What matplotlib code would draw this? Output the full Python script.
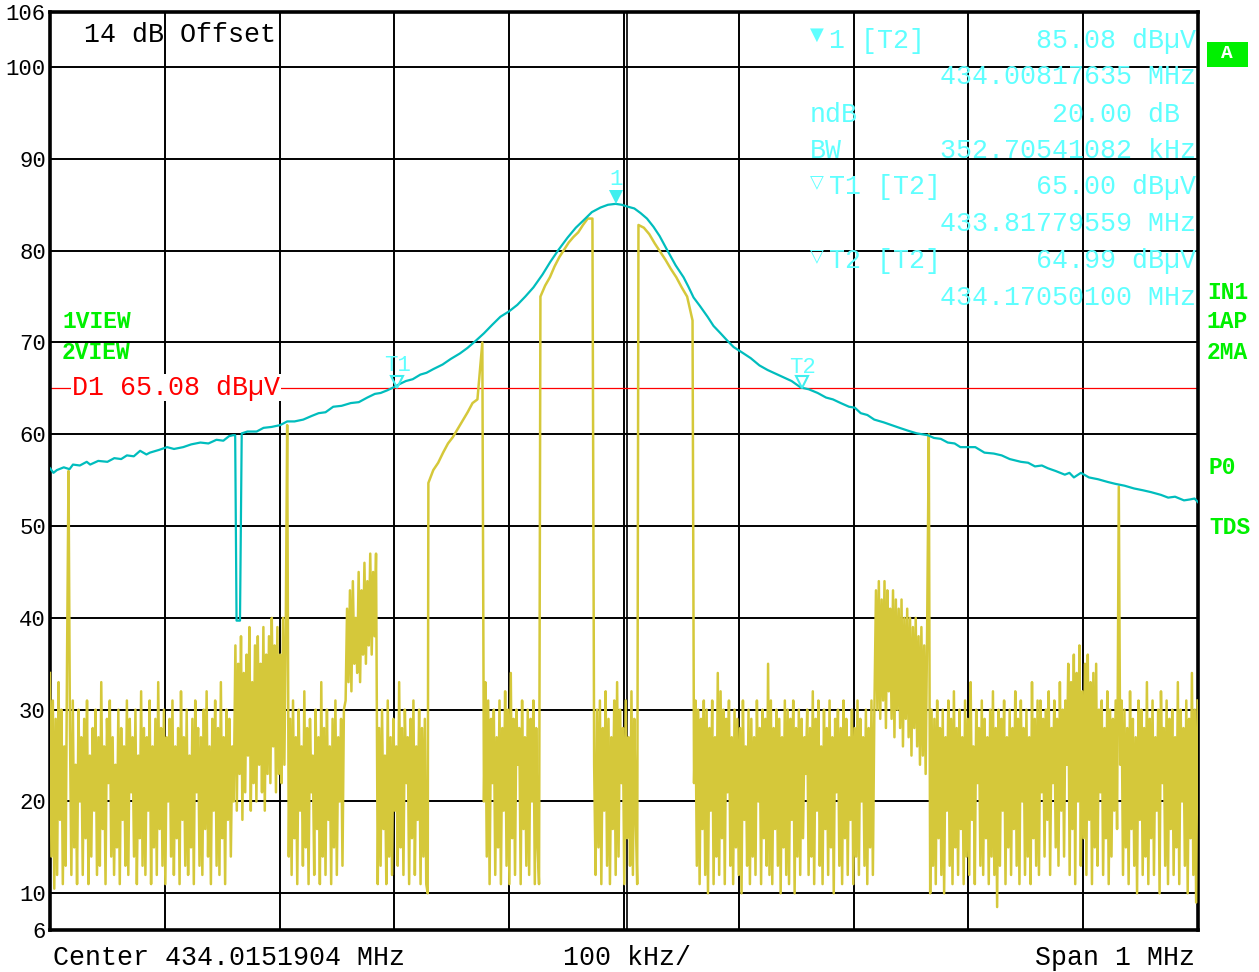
import numpy as np
import matplotlib
matplotlib.use("Agg")
import matplotlib.pyplot as plt
from matplotlib.patches import Rectangle
import matplotlib.transforms as mtrans

# ---------------- data ----------------
center_mhz = 434.0151904
span_khz = 1000

# trace 2 (cyan, max hold): frequency offset [kHz] and level [dBuV]
cyan_khz = [-500, -497, -494, -488, -483, -480, -474, -468, -465, -458, -450, -444, -438,
            -433, -427, -421.5, -416, -413, -405, -398, -392, -384, -377, -369, -362, -355,
            -349, -344, -340.5, -338.7, -337.5, -334.5, -333, -328, -320, -314, -307,
            -299.5, -293.4, -287, -279.4, -272, -266, -260, -253.3, -246, -238, -231,
            -223.6, -217, -212, -206, -201, -195, -190, -184, -177.4, -172, -166.1, -158,
            -151, -143, -136.4, -129, -122, -115, -107.7, -100, -92.9, -86, -78.9, -71,
            -64.1, -57, -49.3, -42, -35.3, -28, -20.5, -14, -7.4, -2, 3.1, 9, 14.4, 20,
            25.7, 31, 37.9, 45, 51.9, 56, 60.6, 66, 72.8, 78, 84.1, 90, 95.5, 103, 110.3,
            118, 125.1, 132, 139.1, 146, 153.9, 161, 168.7, 176, 182, 188.8, 196, 201,
            206.2, 212, 218, 226.2, 233, 240, 247.2, 255, 264.6, 270, 276, 282, 288, 293,
            299.5, 306, 314, 322.1, 329, 336, 345.7, 352, 358, 364, 369.2, 376, 384, 388,
            391.9, 398, 405, 413, 421.5, 428, 436, 444.2, 452, 459, 467.7, 474, 480,
            487.8, 493, 497, 500]
cyan_db = [56.3, 55.8, 56.1, 56.4, 56.2, 56.7, 56.6, 57.0, 56.7, 57.1, 57.0, 57.4, 57.3,
           57.7, 57.6, 58.2, 57.8, 58.0, 58.3, 58.6, 58.4, 58.6, 58.9, 59.1, 59.0, 59.4,
           59.3, 59.8, 59.9, 59.9, 39.7, 39.7, 60.1, 60.3, 60.3, 60.7, 60.8,
           61.0, 61.4, 61.4, 61.6, 62.0, 62.3, 62.4, 63.0, 63.1, 63.4, 63.5,
           64.0, 64.4, 64.5, 64.8, 65.1, 65.5, 65.8, 66.0, 66.5, 66.7, 67.1, 67.6,
           68.2, 68.8, 69.4, 70.2, 71.0, 71.9, 72.8, 73.4, 74.1, 75.0, 76.0, 77.4,
           78.8, 80.1, 81.4, 82.5, 83.3, 84.2, 84.7, 85.0, 85.1, 85.0, 84.8, 84.6, 84.1, 83.5,
           82.6, 81.6, 80.0, 78.4, 77.1, 76.1, 74.9, 74.0, 72.8, 71.8, 71.0, 70.2, 69.5, 68.9,
           68.3, 67.5, 67.0, 66.6, 66.2, 65.8, 65.1, 64.9, 64.5, 64.0, 63.8, 63.4, 63.0, 62.9,
           62.3, 62.1, 61.6, 61.3, 61.0, 60.7, 60.4, 60.1, 59.9, 59.6, 59.5, 59.1, 59.0, 58.6,
           58.6, 58.6, 58.0, 57.9, 57.7, 57.3, 57.0, 56.9, 56.5, 56.6, 56.3, 56.0, 55.6, 55.8,
           55.3, 55.8, 55.3, 55.1, 54.8, 54.6, 54.4, 54.1, 53.9, 53.7, 53.4, 53.1, 53.2,
           52.8, 52.9, 53.0, 52.6]

# trace 1 (yellow): piecewise sweeps, (start kHz, end kHz) and levels
yel_bounds = [(-500, -340), (-338.5, -293.4), (-292, -244), (-242.5, -216),
              (-214.5, -171), (-170.4, -123.4), (-122, -74), (-72.8, -27.5),
              (-26, 11.5), (12.6, 59.7), (61, 218), (219.5, 264), (265.5, 429.5),
              (431, 499.6)]
yel_a = [34, 14, 31, 10.5, 29, 12, 33, 18, 30, 11, 26, 13, 36, 56, 28, 12, 31, 15, 24, 11,
         30, 20, 27, 12, 29, 16, 31, 11, 25, 14, 28, 19, 30, 12, 27, 13, 33, 17, 26, 11,
         29, 22, 31, 14, 27, 12, 24, 15, 30, 11, 28, 18, 26, 13, 31, 12, 29, 21, 27, 14,
         30, 11, 25, 16, 32, 13, 28, 12, 27, 19, 31, 11, 26, 15, 29, 12, 33, 17, 28, 13,
         30, 11, 27, 20, 29, 14, 31, 12, 26, 16, 28, 11, 32, 18, 27, 13, 30, 12, 25, 15,
         29, 11, 31, 21, 28, 13, 27, 12, 30, 17, 32, 14, 26, 11, 29, 19, 31, 13, 28, 12,
         33, 16, 27, 11, 30, 18, 29, 14, 26, 20]
yel_b = [37, 19, 35, 23, 38, 18, 34, 21, 36, 25, 39, 19, 33, 22, 37, 20, 38, 24, 35, 21,
         39, 19, 36, 23, 38, 22, 40, 26, 37, 21, 39, 23, 36, 22, 40, 24, 39, 61]
yel_c = [14, 29, 12, 31, 16, 27, 11, 30, 19, 26, 13, 32, 15, 28, 11, 29, 21, 25, 12, 30,
         17, 27, 11, 33, 14, 28, 12, 30, 18, 26, 11, 29, 15, 31, 12, 27, 20, 29, 13, 30]
yel_d = [31, 41, 33, 43, 32, 44, 35, 40, 34, 45, 33, 43, 36, 46, 35, 44, 37, 47, 36, 45,
         38, 47]
yel_e = [11, 28, 13, 30, 17, 25, 11, 31, 14, 27, 12, 29, 19, 26, 13, 33, 15, 28, 12, 30,
         22, 27, 11, 29, 16, 31, 12, 26, 18, 30, 11, 28, 14, 29, 11, 10]
yel_f = [54.7, 56.1, 56.9, 58.0, 59.0, 59.7, 60.6, 61.5, 62.4, 63.4, 63.8, 70.0]
yel_g = [20, 33, 14, 31, 11, 29, 22, 30, 12, 27, 15, 31, 11, 28, 19, 32, 13, 30, 11, 34,
         16, 29, 12, 30, 24, 28, 11, 31, 17, 27, 13, 30, 12, 29, 20, 31, 11, 28, 15, 11]
yel_h = [75.0, 76.2, 77.1, 78.3, 79.3, 80.1, 80.9, 81.5, 82.0, 82.8, 83.5, 83.5]
yel_i = [24, 12, 30, 15, 31, 11, 28, 19, 32, 13, 29, 11, 27, 17, 31, 12, 33, 14, 30, 22,
         28, 11, 31, 16, 27, 13, 32, 12, 29, 18, 11]
yel_j = [82.8, 82.5, 81.8, 80.8, 79.9, 79.0, 78.0, 77.1, 76.0, 75.0, 72.4]
yel_k = [22, 31, 13, 30, 11, 29, 17, 31, 12, 30, 10, 28, 19, 31, 11, 27, 14, 34, 12, 32,
         16, 30, 11, 29, 21, 31, 13, 27, 11, 30, 15, 29, 12, 28, 10, 31, 18, 26, 13, 30,
         11, 29, 14, 27, 12, 31, 20, 28, 11, 30, 16, 29, 13, 35, 12, 31, 11, 28, 17, 30,
         13, 29, 10, 27, 15, 31, 12, 30, 11, 29, 18, 31, 10, 28, 14, 30, 12, 29, 16, 27,
         23, 30, 12, 28, 14, 32, 11, 29, 19, 31, 13, 26, 11, 30, 17, 28, 12, 31, 15, 27,
         10, 29, 21, 30, 13, 28, 11, 31, 16, 29, 12, 27, 18, 30, 11, 28, 14, 31, 12, 29,
         20, 27, 13, 30, 11, 28, 15, 31, 12, 29]
yel_l = [43, 30, 44, 29, 42, 31, 44, 28, 43, 32, 41, 29, 43, 27, 42, 30, 41, 28, 42, 26,
         40, 29, 41, 27, 40, 25, 39, 28, 40, 26, 38, 24, 39, 25, 37, 23, 38]
yel_m = [60, 10, 30, 13, 29, 11, 31, 16, 28, 12, 30, 10, 27, 19, 31, 13, 29, 11, 32, 15,
         28, 12, 30, 17, 27, 11, 31, 14, 29, 12, 33, 18, 26, 11, 30, 22, 28, 13, 31, 12,
         29, 16, 27, 11, 30, 14, 32, 12, 28, 8.5, 30, 13, 29, 19, 31, 11, 27, 15, 30, 12,
         28, 17, 32, 13, 29, 11, 31, 20, 28, 12, 30, 14, 27, 11, 33, 16, 29, 13, 31, 12,
         31, 21, 29, 14, 30, 18, 32, 12, 28, 22, 31, 15, 29, 13, 33, 19, 30, 14, 31, 24,
         35, 12, 33, 17, 36, 11, 34, 20, 37, 13, 32, 16, 35, 12, 36, 18, 33, 11, 34, 15,
         35, 13, 30, 21, 31, 12, 28, 16, 32, 11, 30, 14, 29, 19, 31, 17]
yel_n = [54.3, 24, 31, 12, 30, 15, 28, 11, 32, 17, 29, 13, 27, 10, 31, 18, 30, 12, 28, 14,
         33, 11, 29, 16, 31, 12, 27, 19, 30, 10, 32, 22, 28, 13, 31, 11, 29, 17, 30, 12,
         27, 15, 33, 11, 30, 20, 28, 13, 31, 10, 29, 16, 34, 12, 30, 9, 31]
yel_vals = [yel_a, yel_b, yel_c, yel_d, yel_e, yel_f, yel_g, yel_h, yel_i, yel_j,
            yel_k, yel_l, yel_m, yel_n]

# markers
m1 = (-7.01, 85.08)
t1 = (-197.4, 65.00)
t2 = (155.3, 64.99)
d1_level = 65.08

yticks = [6, 10, 20, 30, 40, 50, 60, 70, 80, 90, 100, 106]
xgrid = [-400, -300, -200, -100, 0, 100, 200, 300, 400]

# ---------------- figure ----------------
W, H = 1259, 972
fig = plt.figure(figsize=(W / 100, H / 100), dpi=100)
fig.patch.set_facecolor("white")
ax = fig.add_axes([50 / W, 1 - 930 / H, (1198 - 50) / W, (930 - 12) / H])
ax.set_xlim(-span_khz / 2, span_khz / 2)
ax.set_ylim(6, 106)

MONO = ["Liberation Mono", "DejaVu Sans Mono"]
YEL = "#D5C83A"
CYN = "#00BDBD"
LCY = "#5FFFFF"
GRN = "#00F000"
FS = 19.2

ax.set_xticks(xgrid)
ax.set_xticklabels([])
ax.set_yticks(yticks)
ax.set_yticklabels([str(v) for v in yticks], fontfamily=MONO, fontsize=16)
ax.tick_params(length=0, pad=3)
ax.grid(True, color="black", lw=1.4)
ax.set_axisbelow(True)
for sp in ax.spines.values():
    sp.set_linewidth(2.6)
    sp.set_color("black")
ax.axvline(2.6, color="black", lw=1.2, zorder=0.5)

# traces
yx = np.concatenate([np.linspace(a, b, len(v)) for (a, b), v in zip(yel_bounds, yel_vals)])
yy = np.concatenate([np.asarray(v, float) for v in yel_vals])
ax.plot(yx, yy, color=YEL, lw=1.8, zorder=3)
ax.plot(cyan_khz, cyan_db, color=CYN, lw=1.6, zorder=4)

# display line D1
ax.axhline(d1_level, color="#FF0000", lw=0.9, zorder=2)
ax.text(-500 + 22 / 1.148, d1_level, "D1 65.08 dB\u00b5V", color="#FF0000",
        fontfamily=MONO, fontsize=FS, va="center", ha="left", zorder=5,
        bbox=dict(facecolor="white", edgecolor="none", pad=0.5))

# markers on trace
def offs(dy):
    return mtrans.offset_copy(ax.transData, fig=fig, x=0, y=dy, units="dots")

ax.plot([m1[0]], [m1[1]], marker="v", ms=10, color="#3FEFEF", mew=0,
        transform=offs(7), zorder=6)
for t in (t1, t2):
    ax.plot([t[0]], [t[1]], marker="v", ms=9, mfc="none", mec="#3FEFEF", mew=1.5,
            transform=offs(6), zorder=6)
for lab, p, dy in (("1", m1, 25), ("T1", t1, 23), ("T2", t2, 21)):
    ax.annotate(lab, xy=p, xytext=(0, dy), textcoords="offset pixels", ha="center",
                va="center", color=LCY, fontfamily=MONO, fontsize=16, zorder=6)

# ---------------- texts (figure pixels) ----------------
def ft(x, y, s, **kw):
    kw.setdefault("fontfamily", MONO)
    kw.setdefault("fontsize", FS)
    kw.setdefault("va", "center")
    fig.text(x / W, 1 - y / H, s, **kw)

ft(84, 35, "14 dB Offset", color="black")
ft(53, 958, "Center 434.0151904 MHz", color="black")
ft(563, 958, "100 kHz/", color="black")
ft(1195, 958, "Span 1 MHz", color="black", ha="right")

# marker info block
ft(817, 35, "\u25BC", color=LCY, fontfamily=["DejaVu Sans"], fontsize=13, ha="center")
ft(829, 41, "1 [T2]", color=LCY)
ft(1196, 41, "85.08 dB\u00b5V", color=LCY, ha="right")
ft(1196, 77, "434.00817635 MHz", color=LCY, ha="right")
ft(810, 115, "ndB", color=LCY)
ft(1196, 115, "20.00 dB ", color=LCY, ha="right")
ft(810, 151, "BW", color=LCY)
ft(1196, 151, "352.70541082 kHz", color=LCY, ha="right")
ft(817, 182, "\u25BD", color=LCY, fontfamily=["DejaVu Sans"], fontsize=13, ha="center")
ft(829, 187, "T1 [T2]", color=LCY)
ft(1196, 187, "65.00 dB\u00b5V", color=LCY, ha="right")
ft(1196, 224, "433.81779559 MHz", color=LCY, ha="right")
ft(817, 256, "\u25BD", color=LCY, fontfamily=["DejaVu Sans"], fontsize=13, ha="center")
ft(829, 261, "T2 [T2]", color=LCY)
ft(1196, 261, "64.99 dB\u00b5V", color=LCY, ha="right")
ft(1196, 298, "434.17050100 MHz", color=LCY, ha="right")

# green status labels
gkw = dict(color=GRN, fontweight="bold", fontsize=16.5)
ft(62, 322, "1VIEW", **gkw)
ft(62, 352, "2VIEW", **gkw)
ft(1207, 292, "IN1", **gkw)
ft(1207, 322, "1AP", **gkw)
ft(1207, 352, "2MA", **gkw)
ft(1209, 467, "P0", **gkw)
ft(1209, 527, "TDS", **gkw)
fig.patches.append(Rectangle((1207 / W, 1 - 67 / H), 41 / W, 25 / H,
                             transform=fig.transFigure, facecolor=GRN,
                             edgecolor="none"))
ft(1227, 54, "A", color="white", fontweight="bold", fontsize=14, ha="center")

fig.savefig("out.png", dpi=100, facecolor="white")
